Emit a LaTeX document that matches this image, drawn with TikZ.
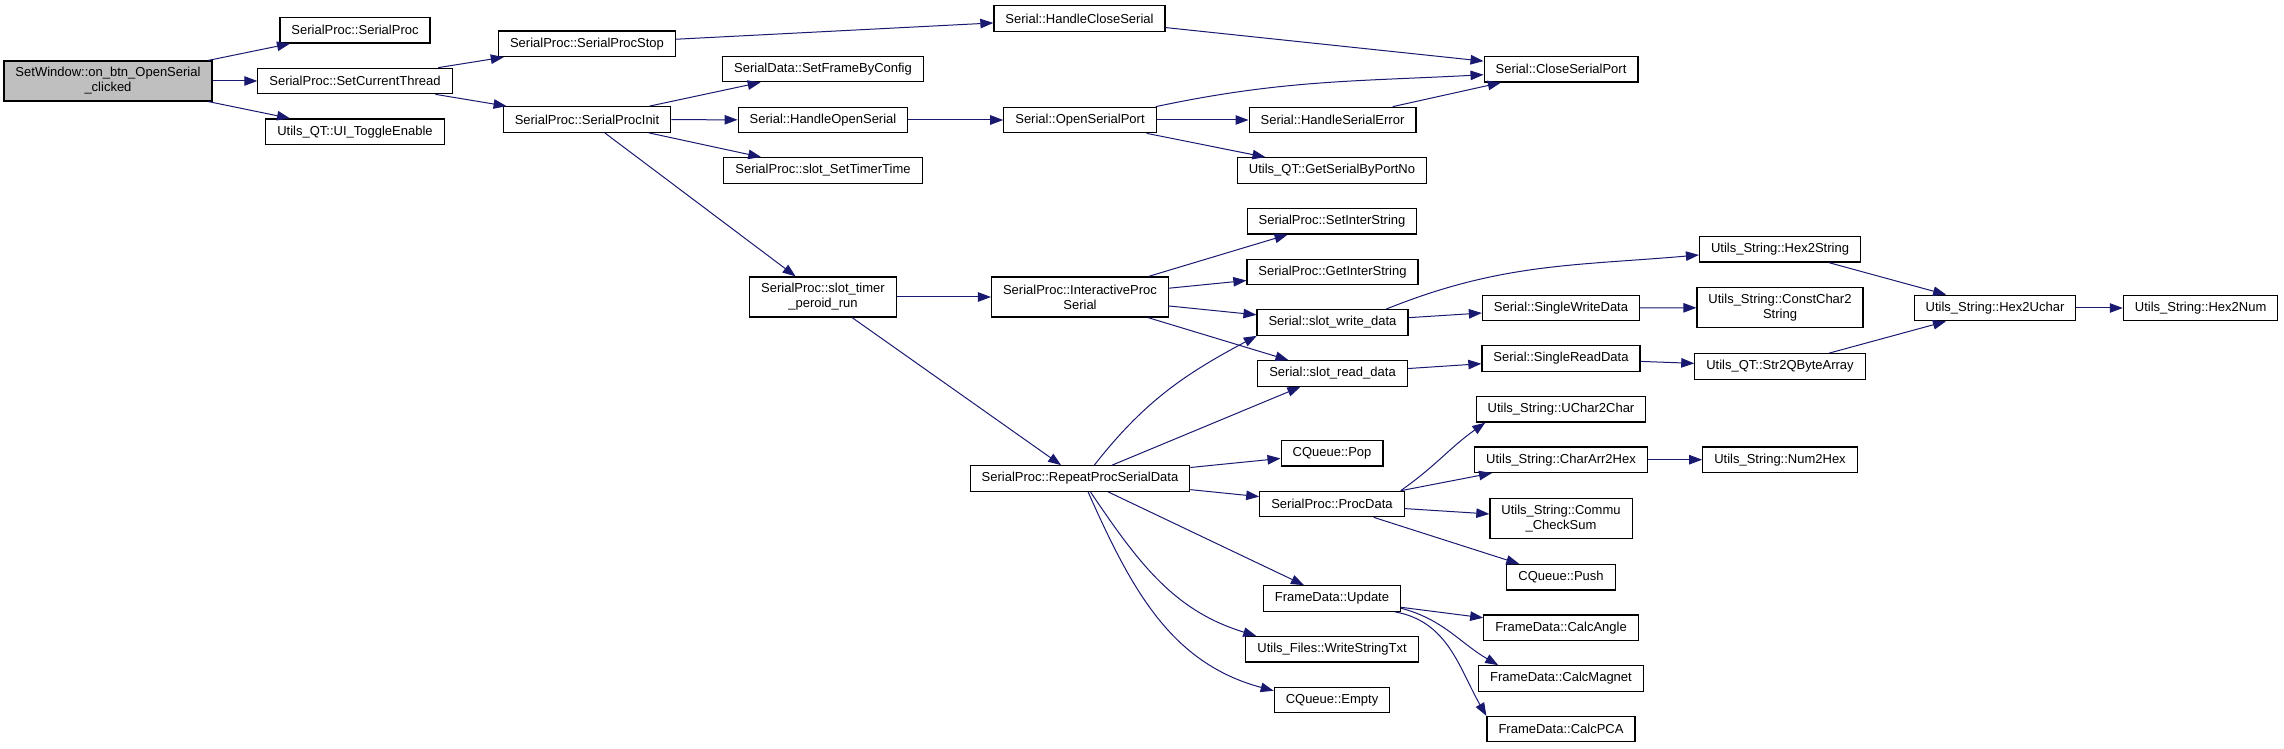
\documentclass[tikz,border=0pt]{standalone}
\usepackage{fontspec}
\setmainfont{Liberation Sans}
\usetikzlibrary{arrows.meta}
\definecolor{edgeblue}{HTML}{191970}
\definecolor{rootgray}{HTML}{BFBFBF}

\begin{document}
\begin{tikzpicture}[x=1pt, y=1pt,
    box/.style={draw=black, line width=1.2pt, fill=white, inner xsep=11.5pt, inner ysep=2pt,
                minimum height=25.5pt, align=center, font=\fontsize{13}{15}\selectfont},
    tall/.style={minimum height=40pt},
    arr/.style={-{Triangle[length=13pt,width=9.5pt]}, draw=edgeblue, line width=1pt}
  ]
    \useasboundingbox (0,0) rectangle (2284,748);

    % callers on the left
    \node[box, tall, fill=rootgray] (onbtn) at (108,667) {SetWindow::on\_btn\_OpenSerial\\\_clicked};
    \node[box] (ctor)       at (355,717.7) {SerialProc::SerialProc};
    \node[box] (curthread)  at (355,667)   {SerialProc::SetCurrentThread};
    \node[box] (toggle)     at (355,616.3) {Utils\_QT::UI\_ToggleEnable};
    \node[box] (procstop)   at (587,704.2) {SerialProc::SerialProcStop};
    \node[box] (procinit)   at (587,628.5) {SerialProc::SerialProcInit};

    \node[box] (frameconf)  at (823,679)   {SerialData::SetFrameByConfig};
    \node[box] (openser)    at (823,628)   {Serial::HandleOpenSerial};
    \node[box] (timertime)  at (823,577.5) {SerialProc::slot\_SetTimerTime};
    \node[box, tall] (timerrun) at (823,451) {SerialProc::slot\_timer\\\_peroid\_run};

    \node[box] (closeser)   at (1079.5,729.5) {Serial::HandleCloseSerial};
    \node[box] (openport)   at (1080,628)  {Serial::OpenSerialPort};
    \node[box, tall] (interact) at (1080,451) {SerialProc::InteractiveProc\\Serial};
    \node[box] (repeat)     at (1080,269.5) {SerialProc::RepeatProcSerialData};

    % middle column
    \node[box] (sererr)     at (1332.5,628) {Serial::HandleSerialError};
    \node[box] (portno)     at (1332,577.5) {Utils\_QT::GetSerialByPortNo};
    \node[box] (setinter)   at (1332,526.7) {SerialProc::SetInterString};
    \node[box] (getinter)   at (1332.5,476) {SerialProc::GetInterString};
    \node[box] (writedata)  at (1332.5,425.5) {Serial::slot\_write\_data};
    \node[box] (readdata)   at (1332.5,374.5) {Serial::slot\_read\_data};
    \node[box] (pop)        at (1332,294.7) {CQueue::Pop};
    \node[box] (procdata)   at (1332,244)   {SerialProc::ProcData};
    \node[box] (update)     at (1332,149.5) {FrameData::Update};
    \node[box] (writetxt)   at (1332,98.7)  {Utils\_Files::WriteStringTxt};
    \node[box] (empty)      at (1332,48)    {CQueue::Empty};

    % callees on the right
    \node[box] (closeport)  at (1561,678.7) {Serial::CloseSerialPort};
    \node[box] (singlewr)   at (1561,440)   {Serial::SingleWriteData};
    \node[box] (singlerd)   at (1561,389.5) {Serial::SingleReadData};
    \node[box] (uchar)      at (1561,338.7) {Utils\_String::UChar2Char};
    \node[box] (arr2hex)    at (1561,288.3) {Utils\_String::CharArr2Hex};
    \node[box, tall] (checksum) at (1561,229.5) {Utils\_String::Commu\\\_CheckSum};
    \node[box] (push)       at (1561,170.7) {CQueue::Push};
    \node[box] (calcangle)  at (1561,120.3) {FrameData::CalcAngle};
    \node[box] (calcmagnet) at (1561,69.5)  {FrameData::CalcMagnet};
    \node[box] (calcpca)    at (1561,19)    {FrameData::CalcPCA};

    \node[box] (hex2str)    at (1780,498.7) {Utils\_String::Hex2String};
    \node[box, tall] (constchar) at (1780,440.3) {Utils\_String::ConstChar2\\String};
    \node[box] (qbytes)     at (1780,381.5) {Utils\_QT::Str2QByteArray};
    \node[box] (num2hex)    at (1780,288.3) {Utils\_String::Num2Hex};
    \node[box] (hex2uchar)  at (1995,440)   {Utils\_String::Hex2Uchar};
    \node[box] (hex2num)    at (2200.6,440) {Utils\_String::Hex2Num};

    % calls
    \draw[arr] (onbtn) -- (ctor);
    \draw[arr] (onbtn) -- (curthread);
    \draw[arr] (onbtn) -- (toggle);
    \draw[arr] (curthread) -- (procstop);
    \draw[arr] (curthread) -- (procinit);
    \draw[arr] (procstop) -- (closeser);
    \draw[arr] (closeser) -- (closeport);
    \draw[arr] (procinit) -- (frameconf);
    \draw[arr] (procinit) -- (openser);
    \draw[arr] (procinit) -- (timertime);
    \draw[arr] (procinit) -- (timerrun);
    \draw[arr] (openser) -- (openport);
    \draw[arr] (openport.10) to[out=12,in=183] (closeport.184);
    \draw[arr] (openport) -- (sererr);
    \draw[arr] (openport) -- (portno);
    \draw[arr] (sererr) -- (closeport);

    \draw[arr] (timerrun) -- (interact);
    \draw[arr] (timerrun) -- (repeat);
    \draw[arr] (interact) -- (setinter);
    \draw[arr] (interact) -- (getinter);
    \draw[arr] (interact) -- (writedata);
    \draw[arr] (interact) -- (readdata);
    \draw[arr] (writedata.14) to[out=22,in=185] (hex2str.184);
    \draw[arr] (writedata) -- (singlewr);
    \draw[arr] (singlewr) -- (constchar);
    \draw[arr] (hex2str) -- (hex2uchar);
    \draw[arr] (hex2uchar) -- (hex2num);
    \draw[arr] (readdata) -- (singlerd);
    \draw[arr] (singlerd) -- (qbytes);
    \draw[arr] (qbytes) -- (hex2uchar);

    \draw[arr] (repeat.43) to[out=52,in=208] (writedata.190);
    \draw[arr] (repeat) -- (readdata);
    \draw[arr] (repeat) -- (pop);
    \draw[arr] (repeat) -- (procdata);
    \draw[arr] (repeat) -- (update);
    \draw[arr] (repeat.-52) to[out=-56,in=163] (writetxt.170);
    \draw[arr] (repeat.-59) to[out=-66,in=165] (empty.171);
    \draw[arr] (procdata.11) to[out=35,in=215] (uchar.190);
    \draw[arr] (procdata) -- (arr2hex);
    \draw[arr] (procdata) -- (checksum);
    \draw[arr] (procdata) -- (push);
    \draw[arr] (arr2hex) -- (num2hex);
    \draw[arr] (update) -- (calcangle);
    \draw[arr] (update.-8) to[out=-15,in=150] (calcmagnet.168);
    \draw[arr] (update.-12) to[out=-10,in=120] (calcpca.170);
\end{tikzpicture}
\end{document}
